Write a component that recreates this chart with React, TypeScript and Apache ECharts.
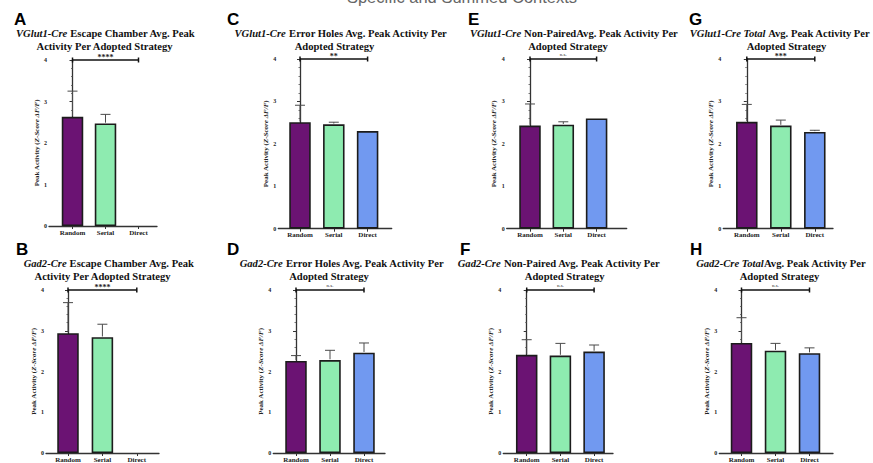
import React, { useEffect, useRef } from "react";
import * as echarts from "echarts";

// ---- data ----
const categories = ["Random", "Serial", "Direct"];
const barColors = ["#6b1373", "#8eebb0", "#7199f0"];

const meanA = [2.63, 2.47, null];
const errA = [0.62, 0.22, null];
const meanB = [2.94, 2.84, null];
const errB = [0.75, 0.32, null];
const meanC = [2.51, 2.46, 2.3];
const errC = [0.4, 0.05, 0];
const meanD = [2.26, 2.28, 2.46];
const errD = [0.13, 0.24, 0.24];
const meanE = [2.43, 2.45, 2.6];
const errE = [0.51, 0.07, 0];
const meanF = [2.41, 2.39, 2.49];
const errF = [0.37, 0.3, 0.16];
const meanG = [2.52, 2.43, 2.28];
const errG = [0.41, 0.13, 0.04];
const meanH = [2.7, 2.51, 2.45];
const errH = [0.62, 0.18, 0.13];

const panelLetters = ["A", "B", "C", "D", "E", "F", "G", "H"];
const significance = ["****", "****", "**", "n.s.", "n.s.", "n.s.", "***", "n.s."];
const titleItalic = [
  "VGlut1-Cre", "Gad2-Cre", "VGlut1-Cre", "Gad2-Cre",
  "VGlut1-Cre", "Gad2-Cre", "VGlut1-Cre Total", "Gad2-Cre Total",
];
const titleRest = [
  " Escape Chamber Avg. Peak",
  " Escape Chamber Avg. Peak",
  " Error Holes Avg. Peak Activity Per",
  " Error Holes Avg. Peak Activity Per",
  " Non-PairedAvg. Peak Activity Per",
  " Non-Paired Avg. Peak Activity Per",
  " Avg. Peak Activity Per",
  "Avg. Peak Activity Per",
];
const titleSecond = [
  "Activity Per Adopted Strategy",
  "Activity Per Adopted Strategy",
  "Adopted Strategy", "Adopted Strategy", "Adopted Strategy",
  "Adopted Strategy", "Adopted Strategy", "Adopted Strategy",
];
const pageHeading = "Specific and Summed Contexts";
const yMin = 0;
const yMax = 4;
const yStep = 1;
const bracketLevel = 4;

const means = [meanA, meanB, meanC, meanD, meanE, meanF, meanG, meanH];
const errs = [errA, errB, errC, errD, errE, errF, errG, errH];

// ---- layout (pixels) ----
// axisX: y-axis line, top/bottom: y=4 / y=0, c0: first bar centre, step: bar spacing, endX: x-axis end
const layout = [
  { axisX: 49, top: 60, bottom: 226, c0: 72.5, step: 33, endX: 157, t1: 105.5, t2: 104.5, ty: 33.7, lx: 14, ly: 19.7 },
  { axisX: 46, top: 290, bottom: 459.3, c0: 68, step: 34.4, endX: 159, t1: 109, t2: 102.5, ty: 263.8, lx: 16, ly: 249.3 },
  { axisX: 278.3, top: 59, bottom: 228.7, c0: 300, step: 33.8, endX: 391.7, t1: 341, t2: 334.5, ty: 33.7, lx: 227, ly: 19.7 },
  { axisX: 273.3, top: 290, bottom: 459.3, c0: 296, step: 34, endX: 385, t1: 342, t2: 329, ty: 263.8, lx: 227, ly: 249.3 },
  { axisX: 506.7, top: 59, bottom: 228.7, c0: 530, step: 33.3, endX: 626.7, t1: 574, t2: 568, ty: 33.7, lx: 468, ly: 19.7 },
  { axisX: 503.3, top: 290, bottom: 459.3, c0: 526.7, step: 33.7, endX: 613, t1: 559, t2: 564.7, ty: 263.8, lx: 460, ly: 249.3 },
  { axisX: 723.3, top: 59, bottom: 228.7, c0: 746.8, step: 34, endX: 833, t1: 780, t2: 786.5, ty: 33.7, lx: 689, ly: 19.7 },
  { axisX: 719.3, top: 290, bottom: 459.3, c0: 741.5, step: 34, endX: 833, t1: 781, t2: 779.5, ty: 263.8, lx: 690, ly: 249.3 },
];

const SERIF = '"Liberation Serif", "Times New Roman", serif';
const SANS = '"Liberation Sans", Arial, sans-serif';
const AXIS_COLOR = "#333";

function buildOption() {
  const grid: any[] = [];
  const xAxis: any[] = [];
  const yAxis: any[] = [];
  const series: any[] = [];
  const graphic: any[] = [];

  layout.forEach((p, i) => {
    grid.push({
      left: p.axisX,
      top: p.top,
      width: p.endX - p.axisX,
      height: p.bottom - p.top,
      containLabel: false,
    });
    const xMin = -(p.c0 - p.axisX) / p.step;
    const xMax = xMin + (p.endX - p.axisX) / p.step;
    const catIdx = categories.map((_, j) => j);
    xAxis.push({
      type: "value",
      gridIndex: i,
      min: xMin,
      max: xMax,
      splitLine: { show: false },
      axisLine: { show: true, onZero: false, lineStyle: { color: AXIS_COLOR, width: 1.3 } },
      axisTick: { show: true, customValues: catIdx, length: 3, lineStyle: { color: AXIS_COLOR, width: 1 } },
      axisLabel: {
        show: true,
        customValues: catIdx,
        formatter: (v: number) => categories[Math.round(v)] ?? "",
        fontFamily: SERIF,
        fontWeight: "bold",
        fontSize: 7,
        color: "#222",
        margin: 3,
      },
    });
    yAxis.push({
      type: "value",
      gridIndex: i,
      min: yMin,
      max: yMax,
      interval: yStep,
      splitLine: { show: false },
      axisLine: { show: true, lineStyle: { color: AXIS_COLOR, width: 1.3 } },
      axisTick: { show: true, length: 3, lineStyle: { color: AXIS_COLOR, width: 1 } },
      minorTick: { show: true, splitNumber: 5, length: 1.5, lineStyle: { color: "#555", width: 0.8 } },
      axisLabel: { fontFamily: SERIF, fontWeight: "bold", fontSize: 6, color: "#222", margin: 2 },
      name: "{n|Peak Activity (}{i|Z-Score ΔF/F}{n|)}",
      nameLocation: "middle",
      nameRotate: 90,
      nameGap: 7,
      nameTextStyle: {
        rich: {
          n: { fontFamily: SERIF, fontWeight: "bold", fontSize: 7, color: "#222" },
          i: { fontFamily: SERIF, fontWeight: "bold", fontStyle: "italic", fontSize: 7, color: "#222" },
        },
      },
    });

    const m = means[i];
    const e = errs[i];
    // mean bars
    series.push({
      type: "bar",
      xAxisIndex: i,
      yAxisIndex: i,
      barWidth: 21.5,
      z: 2,
      itemStyle: { borderColor: "#1c1c1c", borderWidth: 1.6 },
      data: m
        .map((v, j) => (v == null ? null : { value: [j, v], itemStyle: { color: barColors[j] } }))
        .filter((d) => d != null),
    });
    // upper error bars (SEM)
    series.push({
      type: "custom",
      xAxisIndex: i,
      yAxisIndex: i,
      z: 3,
      clip: false,
      data: m
        .map((v, j) => (v == null || !e[j] ? null : [j, v, e[j]]))
        .filter((d) => d != null),
      renderItem: (_params: any, api: any) => {
        const x = api.value(0);
        const v = api.value(1);
        const s = api.value(2);
        const p0 = api.coord([x, v]);
        const p1 = api.coord([x, v + s]);
        const st = { stroke: "#4a4a4a", lineWidth: 1 };
        return {
          type: "group",
          children: [
            { type: "line", shape: { x1: p0[0], y1: p0[1] - 0.8, x2: p1[0], y2: p1[1] }, style: st },
            { type: "line", shape: { x1: p1[0] - 5, y1: p1[1], x2: p1[0] + 5, y2: p1[1] }, style: st },
          ],
        };
      },
    });
    // significance bracket Random vs Direct
    series.push({
      type: "custom",
      xAxisIndex: i,
      yAxisIndex: i,
      z: 4,
      clip: false,
      data: [[0, categories.length - 1, bracketLevel]],
      renderItem: (_params: any, api: any) => {
        const a = api.coord([api.value(0), api.value(2)]);
        const b = api.coord([api.value(1), api.value(2)]);
        const label = significance[i];
        const stars = label.startsWith("*");
        const st = { stroke: "#111", lineWidth: 1.5 };
        return {
          type: "group",
          children: [
            { type: "line", shape: { x1: a[0], y1: a[1], x2: b[0], y2: b[1] }, style: st },
            { type: "line", shape: { x1: a[0], y1: a[1] - 2.5, x2: a[0], y2: a[1] + 2.5 }, style: st },
            { type: "line", shape: { x1: b[0], y1: b[1] - 2.5, x2: b[0], y2: b[1] + 2.5 }, style: st },
            {
              type: "text",
              x: (a[0] + b[0]) / 2,
              y: a[1] - (stars ? 3 : 4.5),
              style: {
                text: label,
                align: "center",
                verticalAlign: "middle",
                fill: "#222",
                font: stars ? `bold 8px ${SERIF}` : `5px ${SERIF}`,
              },
            },
          ],
        };
      },
    });

    // panel letter
    graphic.push({
      type: "text",
      x: p.lx,
      y: p.ly,
      style: {
        text: panelLetters[i],
        align: "left",
        verticalAlign: "middle",
        font: `bold 17px ${SANS}`,
        lineHeight: 13,
        fill: "#000",
      },
    });
    // two-line title
    graphic.push({
      type: "text",
      x: p.t1,
      y: p.ty,
      style: {
        text: `{i|${titleItalic[i]}}{b|${titleRest[i]}}`,
        align: "center",
        verticalAlign: "middle",
        rich: {
          i: { font: `italic bold 10.6px ${SERIF}`, fill: "#111", lineHeight: 11 },
          b: { font: `bold 10.6px ${SERIF}`, fill: "#111", lineHeight: 11 },
        },
      },
    });
    graphic.push({
      type: "text",
      x: p.t2,
      y: p.ty + 12.5,
      style: {
        text: titleSecond[i],
        align: "center",
        verticalAlign: "middle",
        font: `bold 10.6px ${SERIF}`,
        lineHeight: 11,
        fill: "#111",
      },
    });
  });

  // page heading, mostly above the visible area
  graphic.push({
    type: "text",
    x: 462,
    y: -3.5,
    style: {
      text: pageHeading,
      align: "center",
      verticalAlign: "middle",
      font: `16.5px ${SANS}`,
      fill: "#666",
    },
  });

  return {
    animation: false,
    backgroundColor: "#ffffff",
    grid,
    xAxis,
    yAxis,
    series,
    graphic,
  };
}

export default function App() {
  const ref = useRef<HTMLDivElement>(null);
  useEffect(() => {
    if (!ref.current) return;
    const chart = echarts.init(ref.current, null, { renderer: "svg" });
    chart.setOption(buildOption() as any);
    return () => chart.dispose();
  }, []);
  return (
    <div
      ref={ref}
      style={{ position: "fixed", left: 0, top: 0, width: 873, height: 463, background: "#fff", overflow: "hidden" }}
    />
  );
}
